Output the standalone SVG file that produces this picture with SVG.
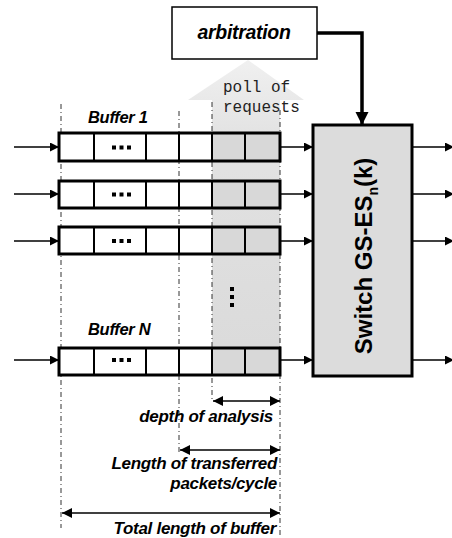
<svg xmlns="http://www.w3.org/2000/svg" width="452" height="538" viewBox="0 0 452 538">
<defs>
<marker id="ah" viewBox="0 0 10 10" refX="10" refY="5" markerWidth="10" markerHeight="9" markerUnits="userSpaceOnUse" orient="auto"><path d="M0,0 L10,5 L0,10 Z" fill="#000"/></marker>
<marker id="ahb" viewBox="0 0 10 10" refX="10" refY="5" markerWidth="13" markerHeight="15" markerUnits="userSpaceOnUse" orient="auto"><path d="M0,0 L10,5 L0,10 Z" fill="#000"/></marker>
<marker id="ahd" viewBox="0 0 10 10" refX="10" refY="5" markerWidth="12" markerHeight="10" markerUnits="userSpaceOnUse" orient="auto-start-reverse"><path d="M0,0 L10,5 L0,10 Z" fill="#000"/></marker>
<linearGradient id="g" x1="0" y1="0" x2="0" y2="1"><stop offset="0" stop-color="#f0f0f0"/><stop offset="0.25" stop-color="#e2e2e2"/><stop offset="1" stop-color="#dadada"/></linearGradient>
</defs>
<style>
.lbl{font-family:"Liberation Sans",Arial,sans-serif;font-weight:bold;font-style:italic;fill:#000;letter-spacing:-0.3px}
.mono{font-family:"Liberation Mono","Courier New",monospace;font-size:16px;fill:#222}
.dd{stroke:#333;stroke-width:1;stroke-dasharray:5 3 1 3;fill:none}
.buf{fill:none;stroke:#000;stroke-width:3}
.cell{fill:#fff;stroke:#000;stroke-width:2}
.gcell{fill:#d8d8d8;stroke:#000;stroke-width:2}
.ln{stroke:#000;stroke-width:1.5;fill:none}
</style>
<rect width="452" height="538" fill="#fff"/>

<polygon id="poll-arrow" points="248,60 304,100 280,100 280,375 212,375 212,100 188,100" fill="url(#g)"/>
<text class="mono" x="223" y="92">poll of</text>
<text class="mono" x="223" y="112">requests</text>

<g id="guides">
<line class="dd" x1="61" y1="104" x2="61" y2="528"/>
<line class="dd" x1="179" y1="111" x2="179" y2="453"/>
<line class="dd" x1="212" y1="102" x2="212" y2="400"/>
<line class="dd" x1="280" y1="110" x2="280" y2="538"/>
</g>

<g id="arbitration">
<rect x="172" y="7" width="145" height="52" fill="#fff" stroke="#000" stroke-width="1.5"/>
<text class="lbl" x="244" y="39" font-size="19.5" text-anchor="middle">arbitration</text>
</g>

<g id="buffer1">
<text class="lbl" x="88" y="123" font-size="16.5">Buffer 1</text>
<rect class="cell" x="59" y="133" width="35" height="28"/><rect class="cell" x="94" y="133" width="52" height="28"/><rect class="cell" x="146" y="133" width="33" height="28"/><rect class="cell" x="179" y="133" width="33" height="28"/><rect class="gcell" x="212" y="133" width="33" height="28"/><rect class="gcell" x="245" y="133" width="35" height="28"/>
<rect class="buf" x="59" y="133" width="221" height="28"/>
<g fill="#000"><rect x="112" y="145.5" width="4" height="4"/><rect x="119.5" y="145.5" width="4" height="4"/><rect x="127" y="145.5" width="4" height="4"/></g>
</g>
<g id="buffer2">
<rect class="cell" x="59" y="181" width="35" height="27"/><rect class="cell" x="94" y="181" width="52" height="27"/><rect class="cell" x="146" y="181" width="33" height="27"/><rect class="cell" x="179" y="181" width="33" height="27"/><rect class="gcell" x="212" y="181" width="33" height="27"/><rect class="gcell" x="245" y="181" width="35" height="27"/>
<rect class="buf" x="59" y="181" width="221" height="27"/>
<g fill="#000"><rect x="112" y="192.5" width="4" height="4"/><rect x="119.5" y="192.5" width="4" height="4"/><rect x="127" y="192.5" width="4" height="4"/></g>
</g>
<g id="buffer3">
<rect class="cell" x="59" y="227" width="35" height="27"/><rect class="cell" x="94" y="227" width="52" height="27"/><rect class="cell" x="146" y="227" width="33" height="27"/><rect class="cell" x="179" y="227" width="33" height="27"/><rect class="gcell" x="212" y="227" width="33" height="27"/><rect class="gcell" x="245" y="227" width="35" height="27"/>
<rect class="buf" x="59" y="227" width="221" height="27"/>
<g fill="#000"><rect x="112" y="239" width="4" height="4"/><rect x="119.5" y="239" width="4" height="4"/><rect x="127" y="239" width="4" height="4"/></g>
</g>
<g id="vdots" fill="#000">
<rect x="230" y="287" width="4" height="4"/><rect x="230" y="295" width="4" height="4"/><rect x="230" y="303" width="4" height="4"/>
</g>
<g id="bufferN">
<text class="lbl" x="88" y="335" font-size="16.5">Buffer N</text>
<rect class="cell" x="59" y="348" width="35" height="27"/><rect class="cell" x="94" y="348" width="52" height="27"/><rect class="cell" x="146" y="348" width="33" height="27"/><rect class="cell" x="179" y="348" width="33" height="27"/><rect class="gcell" x="212" y="348" width="33" height="27"/><rect class="gcell" x="245" y="348" width="35" height="27"/>
<rect class="buf" x="59" y="348" width="221" height="27"/>
<g fill="#000"><rect x="112" y="358" width="4" height="4"/><rect x="119.5" y="358" width="4" height="4"/><rect x="127" y="358" width="4" height="4"/></g>
</g>

<g id="switch">
<rect x="313" y="125" width="99" height="251" fill="#dcdcdc" stroke="#000" stroke-width="3"/>
<text transform="translate(372,256) rotate(-90)" text-anchor="middle" font-family="'Liberation Sans',Arial,sans-serif" font-weight="bold" font-size="24" fill="#000">Switch GS-ES<tspan font-size="14" dy="6">n</tspan><tspan dy="-6">(k)</tspan></text>
</g>

<g id="connectors">
<line class="ln" x1="14" y1="147" x2="59" y2="147" marker-end="url(#ah)"/>
<line class="ln" x1="14" y1="194" x2="59" y2="194" marker-end="url(#ah)"/>
<line class="ln" x1="14" y1="241" x2="59" y2="241" marker-end="url(#ah)"/>
<line class="ln" x1="14" y1="360" x2="59" y2="360" marker-end="url(#ah)"/>
<line class="ln" x1="280" y1="147" x2="313" y2="147" marker-end="url(#ah)"/>
<line class="ln" x1="280" y1="194" x2="313" y2="194" marker-end="url(#ah)"/>
<line class="ln" x1="280" y1="241" x2="313" y2="241" marker-end="url(#ah)"/>
<line class="ln" x1="280" y1="360" x2="313" y2="360" marker-end="url(#ah)"/>
<line class="ln" x1="412" y1="147" x2="454" y2="147" marker-end="url(#ah)"/>
<line class="ln" x1="412" y1="194" x2="454" y2="194" marker-end="url(#ah)"/>
<line class="ln" x1="412" y1="241" x2="454" y2="241" marker-end="url(#ah)"/>
<line class="ln" x1="412" y1="360" x2="454" y2="360" marker-end="url(#ah)"/>
<path d="M317,33 L362,33 L362,125" fill="none" stroke="#000" stroke-width="3.5" marker-end="url(#ahb)"/>
</g>

<g id="dimensions">
<line class="ln" x1="213" y1="401" x2="280" y2="401" marker-start="url(#ahd)" marker-end="url(#ahd)"/>
<text class="lbl" x="273" y="422" font-size="17" text-anchor="end">depth of analysis</text>
<line class="ln" x1="180" y1="450" x2="280" y2="450" marker-start="url(#ahd)" marker-end="url(#ahd)"/>
<text class="lbl" x="277" y="469" font-size="17" text-anchor="end">Length of transferred</text>
<text class="lbl" x="277" y="489" font-size="17" text-anchor="end">packets/cycle</text>
<line class="ln" x1="62" y1="513" x2="280" y2="513" marker-start="url(#ahd)" marker-end="url(#ahd)"/>
<text class="lbl" x="276" y="534" font-size="17" text-anchor="end">Total length of buffer</text>
</g>
</svg>
